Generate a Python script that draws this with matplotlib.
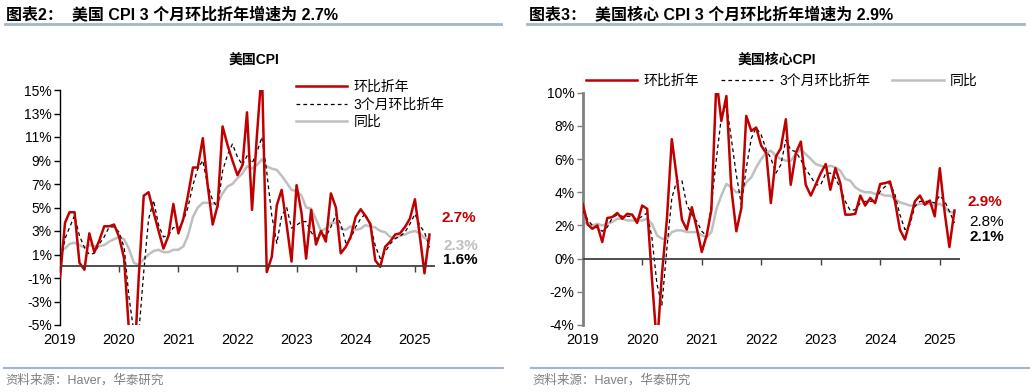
import matplotlib
matplotlib.use("Agg")
import matplotlib.pyplot as plt
import pandas as pd

plt.rcParams['font.family'] = ['Liberation Sans', 'Noto Sans CJK SC', 'DejaVu Sans']

W, H = 1030, 392

months = pd.date_range('2019-01-01', periods=76, freq='MS')
years = pd.date_range('2019-01-01', periods=7, freq='YS')
year_labels = [str(d.year) for d in years]

# US CPI, % (annualised m/m, 3m annualised, y/y)
cpi_mom = [-1.0, 3.7, 4.6, 4.6, 0.3, -0.3, 2.8, 1.2, 2.2, 3.4, 3.4, 3.55,
           2.5, 0.65, -5.3, -9.0, -1.0, 6.0, 6.3, 4.6, 3.0, 1.5, 2.6, 5.3,
           2.8, 4.05, 6.0, 8.4, 8.4, 10.9, 6.9, 3.55, 5.2, 11.9, 10.3, 9.0,
           7.75, 8.6, 13.1, 4.8, 11.1, 16.8, -0.5, 0.8, 5.2, 6.5, 3.5, 0.4,
           6.9, 4.5, 0.65, 4.8, 1.85, 3.0, 2.1, 6.2, 5.0, 1.1, 1.65, 2.5,
           4.2, 4.85, 4.3, 3.6, 0.5, -0.05, 1.65, 2.1, 2.7, 2.8, 3.35, 4.05,
           5.7, 2.5, -0.6, 2.7]
cpi_3m = [0.1, 2.35, 3.3, 4.3, 2.6, 1.6, 1.0, 1.1, 1.9, 2.5, 3.35, 3.35,
          2.9, 1.6, -2.5, -5.6, -5.8, -0.5, 4.0, 5.6, 3.5, 2.5, 2.6, 3.3,
          3.2, 3.9, 5.0, 6.9, 8.3, 9.0, 6.9, 5.6, 5.0, 8.1, 9.5, 10.4,
          9.3, 8.6, 9.4, 8.75, 9.7, 11.0, 8.0, 4.3, 1.95, 4.3, 5.0, 3.25,
          3.5, 3.8, 3.8, 2.9, 2.35, 2.9, 2.5, 3.35, 4.4, 3.6, 2.0, 2.35,
          3.35, 4.05, 4.45, 3.45, 1.75, 0.65, 1.2, 1.9, 2.35, 2.55, 2.9, 3.6,
          4.45, 3.45, 2.9, 1.6]
cpi_yoy = [1.5, 1.5, 1.9, 2.0, 1.8, 1.6, 1.8, 1.7, 1.7, 1.8, 2.1, 2.3,
           2.5, 2.3, 1.5, 0.3, 0.1, 0.6, 1.0, 1.3, 1.4, 1.2, 1.2, 1.4,
           1.4, 1.7, 2.6, 4.2, 5.0, 5.4, 5.4, 5.3, 5.4, 6.2, 6.8, 7.0,
           7.5, 7.9, 8.5, 8.3, 8.6, 9.1, 8.5, 8.3, 8.2, 7.7, 7.1, 6.5,
           6.4, 6.0, 5.0, 4.9, 4.0, 3.0, 3.2, 3.7, 3.7, 3.2, 3.1, 3.4,
           3.1, 3.2, 3.5, 3.4, 3.3, 3.0, 2.9, 2.5, 2.4, 2.6, 2.7, 2.9,
           3.0, 2.8, 2.4, 2.3]

# US core CPI
core_mom = [3.3, 2.05, 1.8, 2.0, 1.0, 2.45, 2.5, 2.75, 2.4, 2.7, 2.65, 2.15,
            3.2, 3.0, -1.2, -5.3, -1.0, 2.4, 7.2, 4.85, 2.35, 1.75, 3.1, 1.85,
            0.4, 1.45, 2.95, 10.8, 8.3, 9.8, 4.25, 1.65, 3.05, 8.6, 7.7, 7.9,
            6.8, 6.35, 3.35, 6.15, 6.65, 8.4, 4.45, 6.35, 7.05, 4.45, 3.8, 4.45,
            5.15, 5.7, 4.15, 5.45, 4.55, 2.65, 2.65, 2.7, 3.8, 3.2, 3.65, 3.35,
            4.5, 4.55, 4.65, 3.45, 1.75, 1.15, 2.25, 3.45, 3.8, 3.25, 3.5, 2.55,
            5.45, 2.7, 0.7, 2.9]
core_3m = [2.9, 2.35, 2.0, 1.85, 1.65, 1.9, 2.45, 2.65, 2.55, 2.55, 2.55, 2.35,
           2.55, 2.75, 1.25, -1.55, -2.8, 0.65, 3.65, 4.7, 4.7, 3.25, 2.65, 2.25,
           1.65, 1.35, 3.25, 6.05, 8.5, 9.3, 7.25, 5.05, 3.25, 5.45, 7.25, 7.9,
           7.45, 6.55, 6.05, 5.15, 5.65, 7.15, 6.55, 6.45, 5.95, 5.4, 4.95, 4.45,
           4.45, 5.15, 5.15, 4.85, 4.25, 3.45, 2.9, 2.95, 3.35, 3.45, 3.45, 3.45,
           4.05, 4.35, 4.55, 3.85, 2.65, 1.75, 2.05, 3.15, 3.45, 3.45, 3.45, 3.35,
           3.8, 3.45, 2.85, 2.15]
core_yoy = [2.2, 2.1, 2.0, 2.1, 2.0, 2.1, 2.2, 2.4, 2.4, 2.3, 2.3, 2.3,
            2.3, 2.4, 2.1, 1.4, 1.2, 1.2, 1.6, 1.7, 1.7, 1.6, 1.6, 1.6,
            1.4, 1.3, 1.6, 3.0, 3.8, 4.5, 4.3, 4.0, 4.0, 4.6, 4.9, 5.5,
            6.0, 6.4, 6.5, 6.2, 6.0, 5.9, 5.9, 6.3, 6.6, 6.3, 6.0, 5.7,
            5.6, 5.5, 5.6, 5.5, 5.3, 4.8, 4.7, 4.3, 4.1, 4.0, 4.0, 3.9,
            3.9, 3.8, 3.8, 3.6, 3.4, 3.3, 3.2, 3.2, 3.3, 3.3, 3.3, 3.2,
            3.3, 3.1, 2.8, 2.8]

legend_names = ['环比折年', '3个月环比折年', '同比']
RED = '#c00000'
GREY = '#bfbfbf'
LINE_BLUE = '#a3b6cb'


def fx(x):
    return x / W


def fy(y):
    return 1 - y / H


def draw(ax, mom, m3, yoy, ylim, yticks, spine_col, spine_w):
    ax.plot(months, mom, color=RED, lw=1.8, label=legend_names[0], zorder=4)
    ax.plot(months, m3, color='black', lw=0.9, ls=(0, (3, 2.5)), label=legend_names[1], zorder=3)
    ax.plot(months, yoy, color=GREY, lw=1.8, label=legend_names[2], zorder=2)
    ax.set_ylim(*ylim)
    ax.set_xlim(months[0], pd.Timestamp('2025-05-05'))
    ax.set_yticks(yticks)
    ax.set_yticklabels([f'{v}%' for v in yticks])
    ax.set_xticks(years)
    ax.set_xticklabels(year_labels)
    for s in ['top', 'right', 'bottom']:
        ax.spines[s].set_visible(False)
    ax.spines['left'].set_color(spine_col)
    ax.spines['left'].set_linewidth(spine_w)
    ax.tick_params(axis='y', length=4, width=1, color=spine_col, labelsize=10, pad=2)
    ax.tick_params(axis='x', length=0, labelsize=10.5, pad=6)
    ax.axhline(0, color='#404040', lw=1.3, zorder=5)
    # year ticks hanging off the zero line
    frac = -ylim[0] / (ylim[1] - ylim[0])
    sec = ax.secondary_xaxis(frac)
    sec.set_xticks(years)
    sec.set_xticklabels([])
    sec.spines['bottom'].set_visible(False)
    sec.tick_params(axis='x', direction='out', length=4, width=1, color='#404040')
    ax.patch.set_alpha(0)


fig = plt.figure(figsize=(W / 100, H / 100), dpi=100)

ax1 = fig.add_axes([fx(60), fy(325), fx(435 - 60), (325 - 90) / H])
draw(ax1, cpi_mom, cpi_3m, cpi_yoy, (-5, 15), list(range(-5, 16, 2)), 'black', 1.0)
ax1.legend(loc='upper left', bbox_to_anchor=(fx(296), fy(80)), bbox_transform=fig.transFigure,
           frameon=False, fontsize=10, handlelength=3.7, handletextpad=0.45,
           labelspacing=0.25, borderaxespad=0, borderpad=0)

ax2 = fig.add_axes([fx(582.7), fy(325), fx(960 - 582.7), (325 - 92.7) / H])
draw(ax2, core_mom, core_3m, core_yoy, (-4, 10), list(range(-4, 11, 2)), '#808080', 2.0)
ax2.legend(loc='upper left', bbox_to_anchor=(fx(586), fy(74)), bbox_transform=fig.transFigure,
           frameon=False, fontsize=10, ncol=3, handlelength=3.7, handletextpad=0.45,
           columnspacing=1.6, borderaxespad=0, borderpad=0)

# headers
fig.text(fx(6), fy(14), '图表2：  美国 CPI 3 个月环比折年增速为 2.7%', fontsize=11.5,
         fontweight='bold', va='center', ha='left')
fig.text(fx(529), fy(14), '图表3：  美国核心 CPI 3 个月环比折年增速为 2.9%', fontsize=11.5,
         fontweight='bold', va='center', ha='left')
fig.add_artist(plt.Line2D([fx(5), fx(501)], [fy(23.5), fy(23.5)], color=LINE_BLUE, lw=2))
fig.add_artist(plt.Line2D([fx(527), fx(1024)], [fy(23.5), fy(23.5)], color=LINE_BLUE, lw=2))

# chart titles
fig.text(fx(254), fy(61), '美国CPI', fontsize=10, fontweight='bold', ha='center', va='center')
fig.text(fx(777), fy(60), '美国核心CPI', fontsize=10, fontweight='bold', ha='center', va='center')

# end labels
fig.text(fx(442), fy(218), '2.7%', color=RED, fontsize=11, fontweight='bold', va='center')
fig.text(fx(443), fy(246.5), '2.3%', color=GREY, fontsize=11, fontweight='bold', va='center')
fig.text(fx(443), fy(259.5), '1.6%', color='black', fontsize=11, fontweight='bold', va='center')
fig.text(fx(967), fy(202.5), '2.9%', color=RED, fontsize=11, fontweight='bold', va='center')
fig.text(fx(969), fy(222.5), '2.8%', color='black', fontsize=11, va='center')
fig.text(fx(969), fy(236.5), '2.1%', color='black', fontsize=11, fontweight='bold', va='center')

# footers
fig.add_artist(plt.Line2D([fx(4), fx(503)], [fy(367.5), fy(367.5)], color=LINE_BLUE, lw=1.5))
fig.add_artist(plt.Line2D([fx(531), fx(1029)], [fy(367.5), fy(367.5)], color=LINE_BLUE, lw=1.5))
fig.text(fx(5), fy(380), '资料来源：Haver，华泰研究', fontsize=9, color='#7f7f7f', va='center')
fig.text(fx(532), fy(380), '资料来源：Haver，华泰研究', fontsize=9, color='#7f7f7f', va='center')

fig.savefig('out.png', dpi=100)
